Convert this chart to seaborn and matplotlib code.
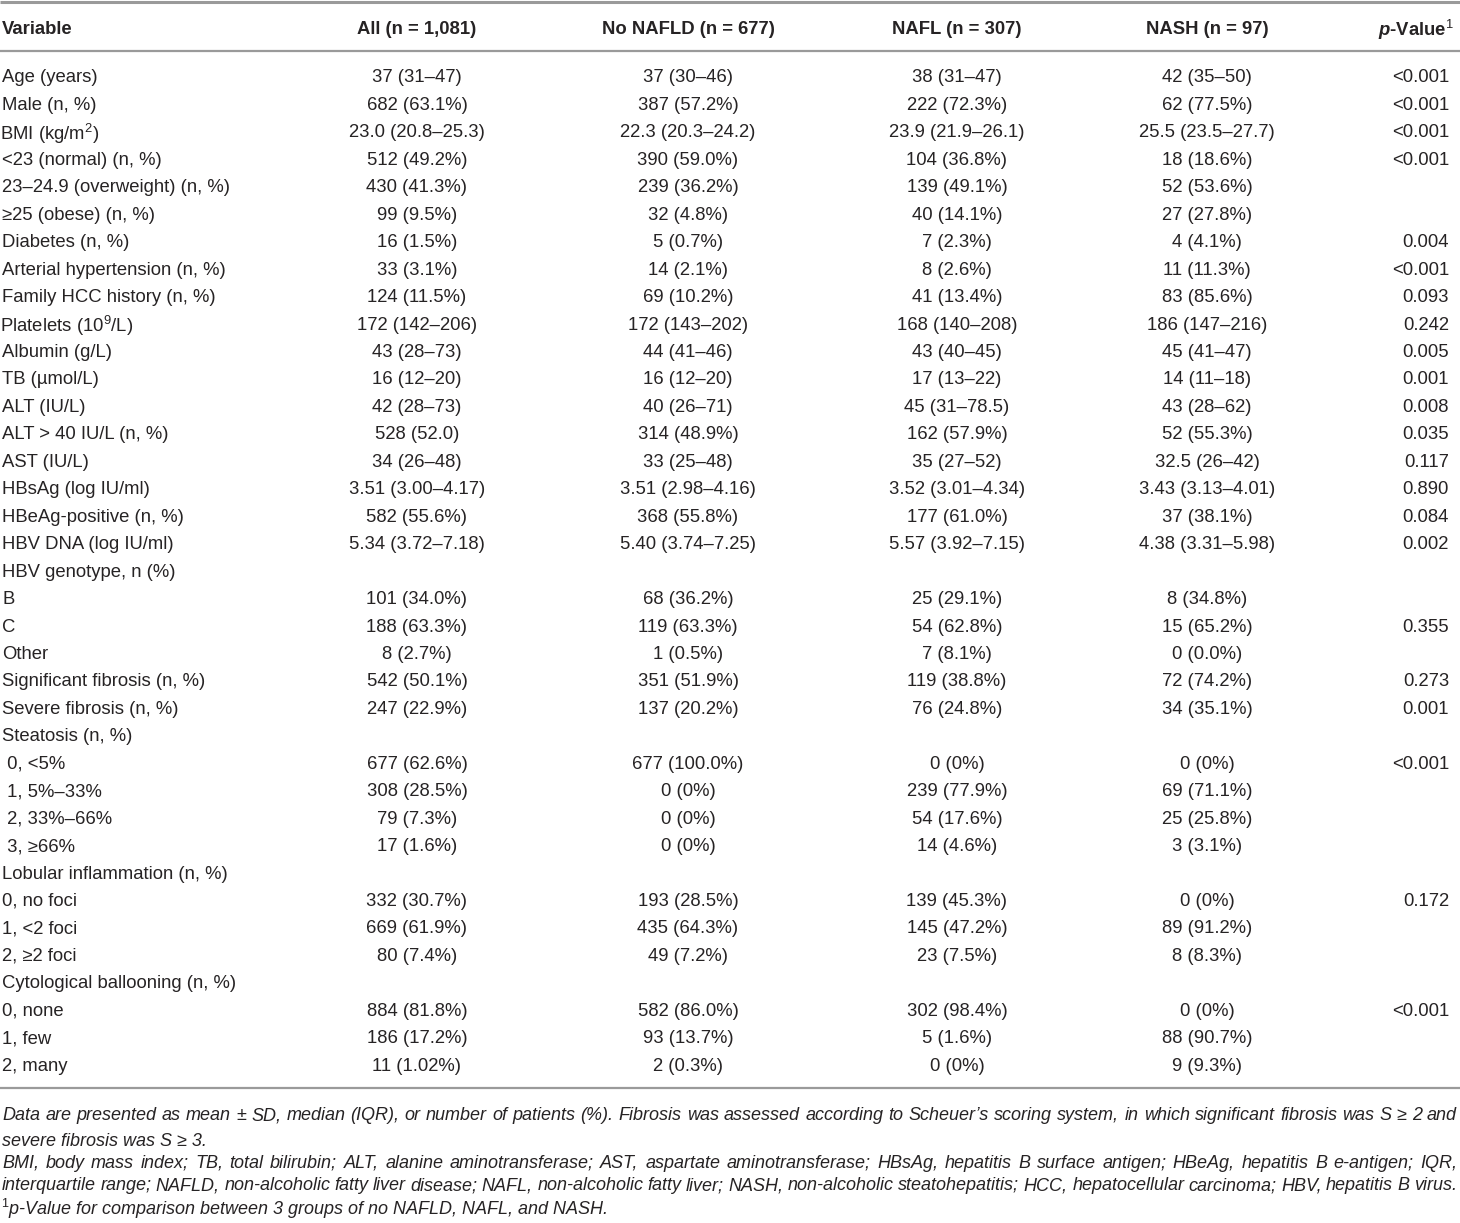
import matplotlib
matplotlib.use("Agg")

import pandas as pd
import seaborn as sns
import matplotlib.pyplot as plt


variables = [
    "Age (years)", "Male (n, %)", "BMI (kg/m$^2$)", "<23 (normal) (n, %)",
    "23–24.9 (overweight) (n, %)", "≥25 (obese) (n, %)", "Diabetes (n, %)",
    "Arterial hypertension (n, %)", "Family HCC history (n, %)", "Platelets (10$^9$/L)",
    "Albumin (g/L)", "TB (µmol/L)", "ALT (IU/L)", "ALT > 40 IU/L (n, %)", "AST (IU/L)",
    "HBsAg (log IU/ml)", "HBeAg-positive (n, %)", "HBV DNA (log IU/ml)", "HBV genotype, n (%)",
    "B", "C", "Other", "Significant fibrosis (n, %)", "Severe fibrosis (n, %)",
    "Steatosis (n, %)", " 0, <5%", " 1, 5%–33%", " 2, 33%–66%", " 3, ≥66%",
    "Lobular inflammation (n, %)", "0, no foci", "1, <2 foci", "2, ≥2 foci",
    "Cytological ballooning (n, %)", "0, none", "1, few", "2, many",
]
all_vals = [
    "37 (31–47)", "682 (63.1%)", "23.0 (20.8–25.3)", "512 (49.2%)", "430 (41.3%)", "99 (9.5%)",
    "16 (1.5%)", "33 (3.1%)", "124 (11.5%)", "172 (142–206)", "43 (28–73)", "16 (12–20)",
    "42 (28–73)", "528 (52.0)", "34 (26–48)", "3.51 (3.00–4.17)", "582 (55.6%)",
    "5.34 (3.72–7.18)", "", "101 (34.0%)", "188 (63.3%)", "8 (2.7%)", "542 (50.1%)",
    "247 (22.9%)", "", "677 (62.6%)", "308 (28.5%)", "79 (7.3%)", "17 (1.6%)", "",
    "332 (30.7%)", "669 (61.9%)", "80 (7.4%)", "", "884 (81.8%)", "186 (17.2%)", "11 (1.02%)",
]
no_nafld_vals = [
    "37 (30–46)", "387 (57.2%)", "22.3 (20.3–24.2)", "390 (59.0%)", "239 (36.2%)", "32 (4.8%)",
    "5 (0.7%)", "14 (2.1%)", "69 (10.2%)", "172 (143–202)", "44 (41–46)", "16 (12–20)",
    "40 (26–71)", "314 (48.9%)", "33 (25–48)", "3.51 (2.98–4.16)", "368 (55.8%)",
    "5.40 (3.74–7.25)", "", "68 (36.2%)", "119 (63.3%)", "1 (0.5%)", "351 (51.9%)",
    "137 (20.2%)", "", "677 (100.0%)", "0 (0%)", "0 (0%)", "0 (0%)", "",
    "193 (28.5%)", "435 (64.3%)", "49 (7.2%)", "", "582 (86.0%)", "93 (13.7%)", "2 (0.3%)",
]
nafl_vals = [
    "38 (31–47)", "222 (72.3%)", "23.9 (21.9–26.1)", "104 (36.8%)", "139 (49.1%)", "40 (14.1%)",
    "7 (2.3%)", "8 (2.6%)", "41 (13.4%)", "168 (140–208)", "43 (40–45)", "17 (13–22)",
    "45 (31–78.5)", "162 (57.9%)", "35 (27–52)", "3.52 (3.01–4.34)", "177 (61.0%)",
    "5.57 (3.92–7.15)", "", "25 (29.1%)", "54 (62.8%)", "7 (8.1%)", "119 (38.8%)",
    "76 (24.8%)", "", "0 (0%)", "239 (77.9%)", "54 (17.6%)", "14 (4.6%)", "",
    "139 (45.3%)", "145 (47.2%)", "23 (7.5%)", "", "302 (98.4%)", "5 (1.6%)", "0 (0%)",
]
nash_vals = [
    "42 (35–50)", "62 (77.5%)", "25.5 (23.5–27.7)", "18 (18.6%)", "52 (53.6%)", "27 (27.8%)",
    "4 (4.1%)", "11 (11.3%)", "83 (85.6%)", "186 (147–216)", "45 (41–47)", "14 (11–18)",
    "43 (28–62)", "52 (55.3%)", "32.5 (26–42)", "3.43 (3.13–4.01)", "37 (38.1%)",
    "4.38 (3.31–5.98)", "", "8 (34.8%)", "15 (65.2%)", "0 (0.0%)", "72 (74.2%)",
    "34 (35.1%)", "", "0 (0%)", "69 (71.1%)", "25 (25.8%)", "3 (3.1%)", "",
    "0 (0%)", "89 (91.2%)", "8 (8.3%)", "", "0 (0%)", "88 (90.7%)", "9 (9.3%)",
]
p_vals = [
    "<0.001", "<0.001", "<0.001", "<0.001", "", "", "0.004", "<0.001", "0.093", "0.242",
    "0.005", "0.001", "0.008", "0.035", "0.117", "0.890", "0.084", "0.002", "", "",
    "0.355", "", "0.273", "0.001", "", "<0.001", "", "", "", "", "0.172", "", "", "",
    "<0.001", "", "",
]
headers = ["Variable", "All (n = 1,081)", "No NAFLD (n = 677)", "NAFL (n = 307)",
           "NASH (n = 97)", r"$\mathit{p}$-Value$^1$"]

footnotes = [
    "Data are presented as mean ± SD, median (IQR), or number of patients (%). Fibrosis was "
    "assessed according to Scheuer’s scoring system, in which significant fibrosis was S ≥ 2 and",
    "severe fibrosis was S ≥ 3.",
    "BMI, body mass index; TB, total bilirubin; ALT, alanine aminotransferase; AST, aspartate "
    "aminotransferase; HBsAg, hepatitis B surface antigen; HBeAg, hepatitis B e-antigen; IQR,",
    "interquartile range; NAFLD, non-alcoholic fatty liver disease; NAFL, non-alcoholic fatty "
    "liver; NASH, non-alcoholic steatohepatitis; HCC, hepatocellular carcinoma; HBV, hepatitis B virus.",
    r"$^1$p-Value for comparison between 3 groups of no NAFLD, NAFL, and NASH.",
]
justify_line = [True, False, True, True, False]

# layout (figure pixels)
COL_X = [2, 417, 688, 957, 1207, 1449]
COL_HA = ["left", "center", "center", "center", "center", "right"]
HEADER_Y = 27
ROW_Y0 = 76
ROW_STEP = 27.45
FOOT_Y = [1114, 1139, 1161, 1184, 1206]
TEXT_COLOR = "#262324"
LINE_COLOR = "#9a9a9a"
FONT_SIZE = 13.3


def build_table() -> pd.DataFrame:
    return pd.DataFrame({
        "Variable": variables,
        "All": all_vals,
        "No NAFLD": no_nafld_vals,
        "NAFL": nafl_vals,
        "NASH": nash_vals,
        "p": p_vals,
    })


def justified(fig, ax, text, y, x0, x1, **kw):
    renderer = fig.canvas.get_renderer()
    words = text.split(" ")
    arts = [ax.text(0, y, w, **kw) for w in words]
    widths = [a.get_window_extent(renderer).width for a in arts]
    gap = (x1 - x0 - sum(widths)) / (len(words) - 1)
    x = x0
    for a, w in zip(arts, widths):
        a.set_x(x)
        x += w + gap


def main() -> None:
    sns.set_theme(style="white")
    plt.rcParams["font.family"] = ["Liberation Sans", "DejaVu Sans"]
    plt.rcParams["mathtext.fontset"] = "custom"
    plt.rcParams["mathtext.rm"] = "Liberation Sans"
    plt.rcParams["mathtext.it"] = "Liberation Sans:italic:bold"
    plt.rcParams["mathtext.bf"] = "Liberation Sans:bold"

    df = build_table()

    fig = plt.figure(figsize=(14.6, 12.23), dpi=100)
    ax = fig.add_axes([0, 0, 1, 1])
    ax.set_xlim(0, 1460)
    ax.set_ylim(1223, 0)
    ax.axis("off")

    # rules
    ax.plot([0, 1460], [1.5, 1.5], color=LINE_COLOR, lw=2.2, solid_capstyle="butt")
    ax.plot([0, 1460], [51, 51], color=LINE_COLOR, lw=1.6, solid_capstyle="butt")
    ax.plot([0, 1460], [1088, 1088], color=LINE_COLOR, lw=1.6, solid_capstyle="butt")

    for x, ha, h in zip(COL_X, COL_HA, headers):
        ax.text(x + (5 if ha == "right" else 0), HEADER_Y, h, ha=ha, va="center_baseline",
                fontsize=FONT_SIZE, fontweight="bold", color=TEXT_COLOR)

    for i, row in enumerate(df.itertuples(index=False)):
        y = ROW_Y0 + i * ROW_STEP
        for x, ha, val in zip(COL_X, COL_HA, row):
            if val:
                # mathtext strings carry a small leading pad
                dx = -2 if ("$" in val and ha == "left") else 0
                ax.text(x + dx, y, val, ha=ha, va="center_baseline",
                        fontsize=FONT_SIZE, color=TEXT_COLOR)

    foot_kw = dict(fontsize=FONT_SIZE - 0.3, style="italic", color=TEXT_COLOR, va="center_baseline")
    for line, y, just in zip(footnotes, FOOT_Y, justify_line):
        if just:
            justified(fig, ax, line, y, 2, 1457, **foot_kw)
        else:
            ax.text(2 - (1 if "$" in line else 0), y, line, **foot_kw)

    fig.savefig("out.png", dpi=100)
    plt.close(fig)


if __name__ == "__main__":
    main()
